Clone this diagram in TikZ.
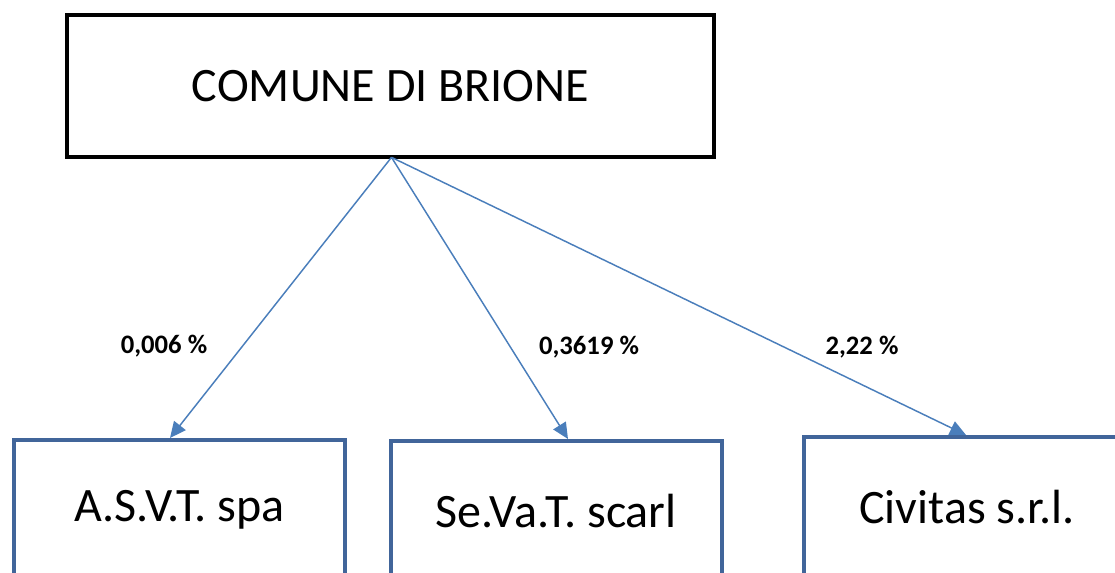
\documentclass[tikz,border=0pt]{standalone}
\usepackage{fontspec}
\setmainfont{Carlito}
\usetikzlibrary{positioning,arrows.meta,calc}
\definecolor{boxblue}{HTML}{41659A}
\definecolor{arrowblue}{HTML}{4A7EBB}
\newlength{\pxu}
\setlength{\pxu}{0.75pt}
\tikzset{
enteBox/.style={
  draw=boxblue,
  line width=3pt,
  minimum width=331\pxu,
  minimum height=140\pxu,
  inner sep=0pt,
  font=\fontsize{36}{42}\selectfont
},
quota/.style={
  font=\fontsize{20}{24}\selectfont\bfseries,
  inner sep=0pt
},
link/.style={
  draw=arrowblue,
  line width=1.1pt,
  -{Triangle[length=12pt,width=11pt]}
}
}

\begin{document}
\begin{tikzpicture}[x=0.75pt,y=-0.75pt]
  \useasboundingbox (0,0) rectangle (1115,572);

  \node[draw=black,line width=3.5pt,minimum width=647\pxu,minimum height=142\pxu,
        inner sep=0pt,font=\fontsize{36}{42}\selectfont] (comune) at (390.5,86) {COMUNE DI BRIONE};

  \node[enteBox] (asvt)    at (179.5,510) {A.S.V.T. spa};
  \node[enteBox] (sevat)   at (556,511)   {Se.Va.T. scarl};
  \node[enteBox,minimum width=326\pxu] (civitas) at (967,507) {Civitas s.r.l.};

  \coordinate (apice) at ($(comune.south)+(1,-2)$);

  \draw[link] (apice) -- ([xshift=-9.5\pxu]asvt.north);
  \draw[link] (apice) -- ([xshift=12\pxu]sevat.north);
  \draw[link] (apice) -- ([xshift=-1\pxu]civitas.north);

  \node[quota] (q1) at (164,346) {0,006 \%};
  \node[quota] (q2) at (589,347) {0,3619 \%};
  \node[quota] (q3) at (862,347) {2,22 \%};
\end{tikzpicture}
\end{document}
